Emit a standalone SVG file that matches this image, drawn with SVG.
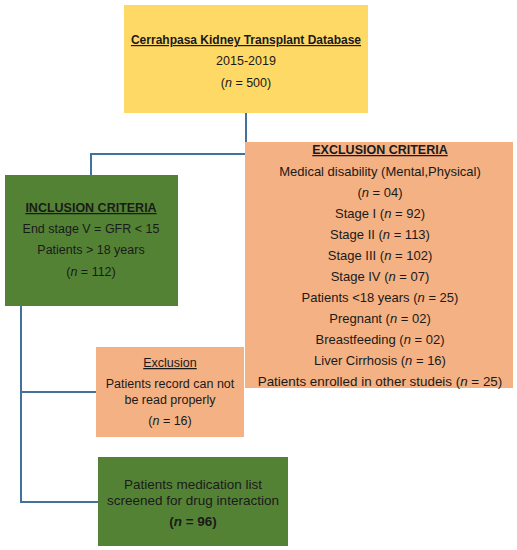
<svg xmlns="http://www.w3.org/2000/svg" width="517" height="550" viewBox="0 0 517 550">
<style>
text{font-family:"Liberation Sans",Arial,sans-serif;font-size:12.5px;fill:#1a1a1a;text-anchor:middle}
.b{font-weight:bold}
.u{text-decoration:underline}
.x{font-size:13px}
.f{font-size:13.5px}
.c{fill:none;stroke:#41719C;stroke-width:2}
</style>
<rect width="517" height="550" fill="#fff"/>
<g id="connectors">
<path class="c" d="M246 113V142"/>
<path class="c" d="M245 154H91V175"/>
<path class="c" d="M21 306V502H98"/>
<path class="c" d="M21 392H96"/>
</g>
<g id="database">
<rect x="124" y="5" width="244" height="108" fill="#FFD966"/>
<text x="246" y="44" class="b u" style="font-size:12px">Cerrahpasa Kidney Transplant Database</text>
<text x="246" y="65">2015-2019</text>
<text x="246" y="87">(<tspan font-style="italic">n</tspan> = 500)</text>
</g>
<g id="inclusion">
<rect x="5" y="175" width="173" height="131" fill="#548235"/>
<text x="91" y="212" class="b u">INCLUSION CRITERIA</text>
<text x="91" y="233">End stage V = GFR &lt; 15</text>
<text x="91" y="254">Patients &gt; 18 years</text>
<text x="91" y="276">(<tspan font-style="italic">n</tspan> = 112)</text>
</g>
<g id="exclusion-criteria">
<rect x="245" y="142" width="268" height="246" fill="#F4B183"/>
<text x="380" y="154" class="b u">EXCLUSION CRITERIA</text>
<text x="380" y="176" class="x">Medical disability (Mental,Physical)</text>
<text x="380" y="197" class="x">(<tspan font-style="italic">n</tspan> = 04)</text>
<text x="380" y="218" class="x">Stage I (<tspan font-style="italic">n</tspan> = 92)</text>
<text x="380" y="239" class="x">Stage II (<tspan font-style="italic">n</tspan> = 113)</text>
<text x="380" y="260" class="x">Stage III (<tspan font-style="italic">n</tspan> = 102)</text>
<text x="380" y="281" class="x">Stage IV (<tspan font-style="italic">n</tspan> = 07)</text>
<text x="380" y="302" class="x">Patients &lt;18 years (<tspan font-style="italic">n</tspan> = 25)</text>
<text x="380" y="323" class="x">Pregnant (<tspan font-style="italic">n</tspan> = 02)</text>
<text x="380" y="344" class="x">Breastfeeding (<tspan font-style="italic">n</tspan> = 02)</text>
<text x="380" y="365" class="x">Liver Cirrhosis (<tspan font-style="italic">n</tspan> = 16)</text>
<text x="380" y="386" style="font-size:13.4px">Patients enrolled in other studeis (<tspan font-style="italic">n</tspan> = 25)</text>
</g>
<g id="exclusion">
<rect x="96" y="347" width="148" height="90" fill="#F4B183"/>
<text x="170" y="367" class="u">Exclusion</text>
<text x="170" y="388">Patients record can not</text>
<text x="170" y="404">be read properly</text>
<text x="170" y="425">(<tspan font-style="italic">n</tspan> = 16)</text>
</g>
<g id="final">
<rect x="98" y="457" width="190" height="89" fill="#548235"/>
<text x="193" y="489" class="f">Patients medication list</text>
<text x="193" y="505" class="f">screened for drug interaction</text>
<text x="193" y="526" class="f b">(<tspan font-style="italic">n</tspan> = 96)</text>
</g>
</svg>
